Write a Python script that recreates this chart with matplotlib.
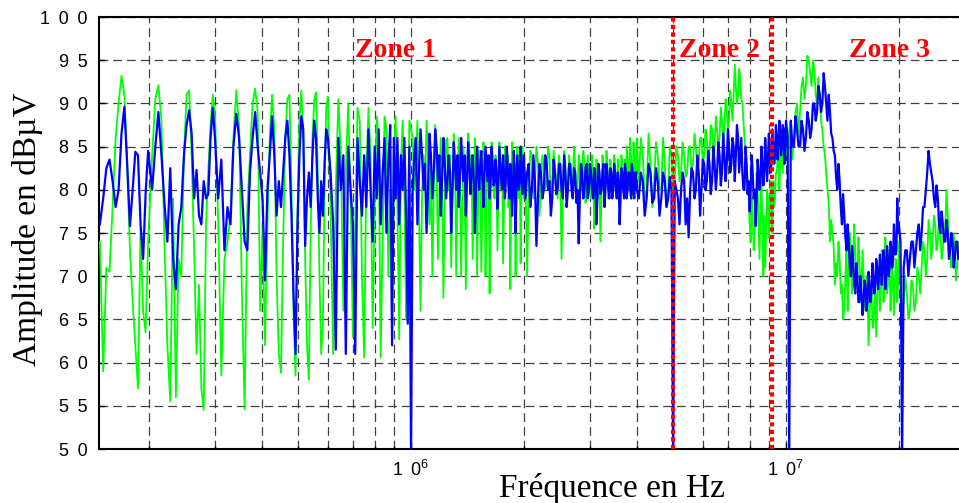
import matplotlib
matplotlib.use('Agg')
from matplotlib import pyplot as plt
from matplotlib.ticker import LogLocator, NullFormatter

# Frequences du balayage (MHz), communes aux deux mesures
freq_mhz = [
    0.148, 0.151, 0.154, 0.157, 0.160, 0.163, 0.166, 0.169, 0.172, 0.175, 0.178, 0.181, 0.184, 0.187, 0.190,
    0.193, 0.196, 0.199,
    0.204, 0.208, 0.212, 0.216, 0.220, 0.224, 0.228, 0.232, 0.236, 0.240, 0.244, 0.248, 0.252, 0.256, 0.260,
    0.264, 0.268, 0.272, 0.276, 0.280, 0.284, 0.288, 0.292, 0.296, 0.300,
    0.306, 0.312, 0.318, 0.324, 0.330, 0.336, 0.342, 0.348, 0.354, 0.360, 0.366, 0.372, 0.378, 0.384, 0.390,
    0.396, 0.402, 0.408, 0.414, 0.420, 0.426, 0.432, 0.438, 0.444, 0.450, 0.456, 0.462, 0.468, 0.474, 0.480,
    0.486, 0.492, 0.498, 0.504, 0.510, 0.516, 0.522, 0.528, 0.534, 0.540, 0.546, 0.552, 0.558, 0.564, 0.570,
    0.576, 0.582, 0.588, 0.594, 0.600,
    0.61, 0.62, 0.63, 0.64, 0.65, 0.66, 0.67, 0.68, 0.69, 0.70, 0.71, 0.72, 0.73, 0.74, 0.75, 0.76, 0.77,
    0.78, 0.79, 0.80, 0.81, 0.82, 0.83, 0.84, 0.85, 0.86, 0.87, 0.88, 0.89, 0.90, 0.91, 0.92, 0.93, 0.94,
    0.95, 0.96, 0.97, 0.98, 0.99, 1.00,
    1.01, 1.02, 1.03, 1.04, 1.05, 1.06, 1.07, 1.08, 1.09, 1.10,
    1.11, 1.12, 1.13, 1.14, 1.15, 1.16, 1.17, 1.18, 1.19, 1.20,
    1.21, 1.22, 1.23, 1.24, 1.25, 1.26, 1.27, 1.28, 1.29, 1.30,
    1.31, 1.32, 1.33, 1.34, 1.35, 1.36, 1.37, 1.38, 1.39, 1.40,
    1.41, 1.42, 1.43, 1.44, 1.45, 1.46, 1.47, 1.48, 1.49, 1.50,
    1.51, 1.52, 1.53, 1.54, 1.55, 1.56, 1.57, 1.58, 1.59, 1.60,
    1.61, 1.62, 1.63, 1.64, 1.65, 1.66, 1.67, 1.68, 1.69, 1.70,
    1.71, 1.72, 1.73, 1.74, 1.75, 1.76, 1.77, 1.78, 1.79, 1.80,
    1.81, 1.82, 1.83, 1.84, 1.85, 1.86, 1.87, 1.88, 1.89, 1.90,
    1.91, 1.92, 1.93, 1.94, 1.95, 1.96, 1.97, 1.98, 1.99, 2.00,
    2.02, 2.04, 2.06, 2.08, 2.10, 2.12, 2.14, 2.16, 2.18, 2.20,
    2.22, 2.24, 2.26, 2.28, 2.30, 2.32, 2.34, 2.36, 2.38, 2.40,
    2.42, 2.44, 2.46, 2.48, 2.50, 2.52, 2.54, 2.56, 2.58, 2.60,
    2.62, 2.64, 2.66, 2.68, 2.70, 2.72, 2.74, 2.76, 2.78, 2.80,
    2.82, 2.84, 2.86, 2.88, 2.90, 2.92, 2.94, 2.96, 2.98, 3.00,
    3.02, 3.04, 3.06, 3.08, 3.10, 3.12, 3.14, 3.16, 3.18, 3.20,
    3.22, 3.24, 3.26, 3.28, 3.30, 3.32, 3.34, 3.36, 3.38, 3.40,
    3.42, 3.44, 3.46, 3.48, 3.50, 3.52, 3.54, 3.56, 3.58, 3.60,
    3.62, 3.64, 3.66, 3.68, 3.70, 3.72, 3.74, 3.76, 3.78, 3.80,
    3.82, 3.84, 3.86, 3.88, 3.90, 3.92, 3.94, 3.96, 3.98, 4.00,
    4.05, 4.10, 4.15, 4.20, 4.25, 4.30, 4.35, 4.40, 4.45, 4.50, 4.55, 4.60, 4.65, 4.70, 4.75, 4.80,
    4.85, 4.90, 4.95, 5.00,
    5.05, 5.10, 5.15, 5.20, 5.25, 5.30, 5.35, 5.40, 5.45, 5.50, 5.55, 5.60, 5.65, 5.70, 5.75, 5.80,
    5.85, 5.90, 5.95, 6.00,
    6.05, 6.10, 6.15, 6.20, 6.25, 6.30, 6.35, 6.40, 6.45, 6.50, 6.55, 6.60, 6.65, 6.70, 6.75, 6.80,
    6.85, 6.90, 6.95, 7.00,
    7.05, 7.10, 7.15, 7.20, 7.25, 7.30, 7.35, 7.40, 7.45, 7.50, 7.55, 7.60, 7.65, 7.70, 7.75, 7.80,
    7.85, 7.90, 7.95, 8.00,
    8.05, 8.10, 8.15, 8.20, 8.25, 8.30, 8.35, 8.40, 8.45, 8.50, 8.55, 8.60, 8.65, 8.70, 8.75, 8.80,
    8.85, 8.90, 8.95, 9.00,
    9.05, 9.10, 9.15, 9.20, 9.25, 9.30, 9.35, 9.40, 9.45, 9.50, 9.55, 9.60, 9.65, 9.70, 9.75, 9.80,
    9.85, 9.90, 9.95, 10.00,
    10.1, 10.2, 10.3, 10.4, 10.5, 10.6, 10.7, 10.8, 10.9, 11.0,
    11.1, 11.2, 11.3, 11.4, 11.5, 11.6, 11.7, 11.8, 11.9, 12.0,
    12.1, 12.2, 12.3, 12.4, 12.5, 12.6, 12.7, 12.8, 12.9, 13.0,
    13.1, 13.2, 13.3, 13.4, 13.5, 13.6, 13.7, 13.8, 13.9, 14.0,
    14.1, 14.2, 14.3, 14.4, 14.5, 14.6, 14.7, 14.8, 14.9, 15.0,
    15.1, 15.2, 15.3, 15.4, 15.5, 15.6, 15.7, 15.8, 15.9, 16.0,
    16.1, 16.2, 16.3, 16.4, 16.5, 16.6, 16.7, 16.8, 16.9, 17.0,
    17.1, 17.2, 17.3, 17.4, 17.5, 17.6, 17.7, 17.8, 17.9, 18.0,
    18.1, 18.2, 18.3, 18.4, 18.5, 18.6, 18.7, 18.8, 18.9, 19.0,
    19.1, 19.2, 19.3, 19.4, 19.5, 19.6, 19.7, 19.8, 19.9, 20.0,
    20.2, 20.4, 20.6, 20.8, 21.0, 21.2, 21.4, 21.6, 21.8, 22.0, 22.2, 22.4, 22.6, 22.8, 23.0, 23.2,
    23.4, 23.6, 23.8, 24.0, 24.2, 24.4, 24.6, 24.8, 25.0, 25.2, 25.4, 25.6, 25.8, 26.0, 26.2, 26.4,
    26.6, 26.8, 27.0, 27.2, 27.4, 27.6, 27.8, 28.0, 28.2, 28.4, 28.6, 28.8, 29.0, 29.2,
]

# Mesure en vert (dBuV)
green_db = [
    74, 59, 71, 70.5, 78, 86, 90, 93.2, 91, 83, 73, 67, 62, 57, 75.5, 66, 63.5, 74,
    84, 90.5, 92.1, 88, 74, 62, 55.5, 79, 56, 72, 70, 84, 91, 91.5, 84, 73, 61, 69, 57, 54.5, 76, 82.3,
    87.5, 91, 88.8,
    76.5, 58.5, 72, 74, 77, 86, 91.5, 87.3, 68, 54.6, 78, 84, 90, 91.7, 89, 66, 76,
    62, 76, 86, 91, 87, 70, 61, 58.8, 74, 86, 90.5, 91, 80, 66, 58.5, 77, 88, 91.5, 86, 72, 62, 58, 75,
    86, 90.5, 91.3, 82, 70, 61, 64, 80, 89.5, 90.8,
    78, 61, 80, 90.5, 84, 66, 82, 90, 79, 63, 76, 89.5, 88, 70, 60.6, 82, 89.5, 84, 64, 78, 88.5, 86,
    60.6, 75, 88.5, 87, 70, 80, 64.6, 84, 88.5, 78, 62.7, 83, 88, 80, 65, 76, 88, 87,
    86, 80, 83, 88, 78, 66, 79, 84, 80, 88,
    84, 76, 83, 70, 80, 87.5, 83, 72, 79, 86,
    81, 67.5, 78, 85.5, 86, 80, 84, 71, 80, 86.5,
    83, 70, 79, 86, 82, 70, 78, 85, 81, 68.5,
    79, 86.5, 85, 82, 84, 72, 80, 86, 83, 70,
    79, 84.5, 82, 70.5, 78, 85.5, 83, 70, 79, 84,
    82, 68, 78, 85.5, 84, 80, 79, 84, 82, 73,
    79, 85.5, 84, 80, 83, 71.5, 78, 85, 84.5, 82,
    84, 78, 82, 68.5, 78, 85.5, 84, 80, 83, 70,
    79, 85, 83.5, 79, 84, 71.5, 79, 85, 83, 79,
    82, 70, 80, 84.5, 84, 79, 81, 85, 83, 77,
    80, 84, 83, 80, 81, 85, 84, 78, 80, 84.5,
    83, 81, 79, 84, 82, 72, 80, 84.5, 83, 79,
    80, 84, 82, 80.5, 80, 85, 83, 79, 80, 84,
    83, 80, 81, 84.5, 83, 78.5, 80, 84, 82, 80,
    79, 84, 82, 75.5, 80, 83.5, 83, 79, 81, 74,
    79, 84, 83, 80, 80, 84.5, 83, 79, 80, 83.5,
    82, 81, 80, 84, 83, 79, 80, 83.5, 82, 77,
    80, 84, 83, 80, 81, 83.5, 80, 85, 84, 80,
    81, 86, 84, 79, 81, 85.5, 84, 80.5, 81, 86,
    81, 86, 84, 79, 80, 86.5, 83, 78, 81, 85.5, 84, 80, 80, 86, 83, 78, 80, 85, 84, 80,
    81, 85, 84, 81, 82, 85.5, 84, 81.5, 82, 85, 85, 82, 83, 86.5, 85, 82.5, 83, 86, 86, 83,
    84, 87, 86, 83, 84, 87.5, 87, 84, 85, 88.5, 87, 84.5, 86, 89.5, 88, 86, 87, 90.5, 89, 87,
    88, 91.5, 90, 88, 91, 94.5, 92, 90, 91, 94, 93, 90.5, 90, 88, 86, 84, 83, 81, 79, 76,
    74, 79, 77, 73, 75, 78, 82, 80, 76, 72, 78, 81, 76, 70, 77, 71, 75, 80, 79, 74.5,
    77, 81, 79, 75, 81, 78, 79, 82, 82, 84, 85, 80, 83, 85, 86, 82, 84, 86, 87, 84,
    84, 87, 88, 83.5, 86, 89, 90, 86, 89, 92,
    93, 90.5, 92, 95.5, 95, 93.5, 92, 95, 94, 91,
    90, 93, 91, 88, 87, 85, 84, 82, 80, 78.5,
    74, 76.5, 75, 73.5, 69, 71.5, 70, 74, 72, 68,
    69, 65, 66, 70, 73, 66, 70, 75, 73, 68,
    71, 76, 73, 69, 70, 74.5, 72, 68, 69, 73,
    70, 67, 66, 70, 68, 62, 65, 68, 69, 64.5,
    64, 67, 68, 63, 67, 71, 70, 66, 68, 73,
    71, 67, 70, 74.5, 72, 68, 69, 73, 71, 66,
    68, 71, 70, 65.5, 68, 72, 71, 67, 69, 74,
    69, 66, 67, 70, 68, 65, 66, 69.5, 69, 66, 67, 71, 70, 68, 71, 74, 73, 70, 72, 76.5,
    75, 72, 74, 77, 76, 73, 74, 77.5, 75, 72, 73, 76, 76, 80, 77, 74, 73, 71, 72, 75,
    73, 69.5, 71, 73, 74, 71,
]

# Mesure en bleu (dBuV)
blue_db = [
    76, 79, 82.5, 83.5, 81, 78, 80, 86.5, 89.6, 83, 75.8, 80, 84.4, 84, 76, 72, 79.6, 84.5,
    80, 85, 89, 84, 78.5, 74, 82.5, 72, 68.5, 76, 78, 84, 87.5, 89.2, 86.5, 79, 82.3, 77, 76, 81, 79,
    79.5, 86, 89.5, 86,
    79, 83.5, 73, 78, 76, 85, 88.8, 86, 80, 74, 73, 82, 86, 89, 85, 82, 78.8,
    69.5, 80, 84, 88.5, 84, 77, 81, 78, 82, 86, 88, 84, 77, 68, 61, 76, 84, 88.5, 87, 73.5, 79, 82, 78,
    84, 88, 86, 79, 75, 81, 77, 83, 87, 86,
    82, 76, 61.5, 86, 80, 84, 61, 85, 80, 76, 61, 86, 81, 77, 84, 78, 87, 80, 74, 85, 79, 87, 76, 82,
    86, 75, 83, 87.5, 62, 86, 79, 86, 76, 84, 80, 86, 77, 64.5, 85, 49,
    80, 84, 86, 76, 82, 87, 84, 80, 83, 75,
    80, 86.5, 84, 79, 82, 87, 85, 81, 84, 77,
    81, 86, 83, 79, 81, 84, 82, 75, 80, 85.5,
    83, 80, 84, 78, 81, 86, 83, 81, 84, 77,
    81, 85.5, 83, 79.5, 82, 84, 81, 75, 80, 85,
    82, 80, 83, 84.5, 81, 78, 82, 85, 83, 81,
    84, 79, 81, 85, 83, 80.5, 81, 83.5, 82, 77.8,
    81, 85, 83, 81, 80, 84, 82, 79, 81, 85,
    83, 80.5, 79, 83, 81, 77, 80, 84.5, 82, 75,
    80, 84, 82, 80, 81, 85, 83, 79.5, 81, 84,
    79, 82, 83, 78, 80, 84, 81, 73.5, 79, 83,
    82, 79, 80, 84, 83, 80, 81, 77, 79, 83.5,
    82, 79.5, 80, 83, 83, 80, 79, 84, 82, 78,
    80, 83, 83, 80, 79, 82.5, 82, 78.5, 80, 73.8,
    79, 83, 82, 79, 80, 82.5, 83, 79, 80, 83,
    82, 80, 79, 82.5, 82, 76, 79, 83, 82, 79.5,
    80, 82, 83, 78, 80, 83, 82, 80, 79, 82.5,
    82, 79, 80, 83, 82, 80, 79, 82, 81, 76,
    79, 82.5, 82, 80, 79, 83, 82, 79, 80, 82,
    82, 80.5, 79, 83, 82, 79.5, 79, 82, 82, 80,
    79, 82, 81, 77, 79, 83, 82, 78.5, 79, 82.5, 81, 77, 79, 82, 81, 78, 79, 81.5, 80, 49,
    81, 80, 79, 76, 80, 82, 81, 76, 79, 74.5, 80, 82.5, 82, 79, 80, 84, 82, 77, 80, 83.5,
    83, 80, 81, 84.5, 83, 79.5, 81, 85, 83, 80, 82, 85.5, 84, 80.5, 82, 86.5, 84, 81, 83, 87,
    85, 82, 83, 86, 85, 81, 84, 87.5, 86, 82, 84, 86, 82, 80, 80, 85, 83, 79.5, 81, 77.5,
    80, 84, 82, 79, 80, 75.8, 79, 83.5, 82, 80, 81, 85, 83, 80.5, 82, 86, 84, 81, 83, 86.5,
    85, 82, 83, 87, 85, 83, 84, 87.5, 86, 83.5, 85, 88, 87, 84, 85, 87.5, 87, 83, 85, 88,
    86, 49, 88, 85, 85, 88.5, 87, 85, 85, 88,
    87, 84.5, 86, 89, 88, 86, 87, 90, 90, 88,
    89, 92, 91, 89, 90, 93.5, 92, 90, 88, 91,
    89, 86.5, 86, 84.5, 84, 81.5, 80, 83, 81, 78,
    76, 79.5, 77, 74.5, 73, 76, 74, 71, 70, 73.5,
    72, 69, 68, 71.5, 70, 67, 67, 70, 68, 65.5,
    67, 69.5, 69, 66, 67, 70.5, 69, 67, 68, 71.5,
    70, 68, 69, 72, 71, 68.5, 70, 72.5, 71, 69,
    71, 73, 72, 68.5, 70, 73.5, 72, 70, 71, 74,
    73, 71, 72, 76, 74, 72.5, 73, 79, 75, 76,
    74, 49, 71, 73, 73, 70, 72, 74, 74, 71, 73, 75, 76, 73, 75, 78, 78, 80, 82, 84.5,
    83, 82, 81, 79, 78, 80.5, 79, 76, 75, 77.5, 76, 74, 74, 76.5, 75, 72, 73, 75, 74, 71,
    72, 74, 74, 72, 72, 73.5,
]

assert len(freq_mhz) == len(green_db) == len(blue_db)

zone_limits_mhz = [5.0, 9.2]
zone_names = ['Zone 1', 'Zone 2', 'Zone 3']
zone_text_mhz = [0.709, 5.18, 14.7]
y_ticks = [50, 55, 60, 65, 70, 75, 80, 85, 90, 95, 100]
x_ticks = [1e6, 1e7]
x_ticklabels = ['1 \u20090$^{6}$', '1 \u20090$^{7}$']

plt.rcParams['font.family'] = ['Liberation Sans', 'DejaVu Sans']
plt.rcParams['mathtext.default'] = 'regular'

fig = plt.figure(figsize=(9.59, 5.03), dpi=100)
ax = fig.add_axes([99 / 959, 54 / 503, 860 / 959, 432 / 503])

f_hz = [f * 1e6 for f in freq_mhz]
ax.plot(f_hz, green_db, color='#00ff00', lw=1.3, zorder=3)
ax.plot(f_hz, blue_db, color='#0000ff', lw=1.6, zorder=4)

for fz in zone_limits_mhz:
    ax.axvline(fz * 1e6, color='#ff0000', lw=3, ls=(0, (1, 0.8)), zorder=5)

for name, fx in zip(zone_names, zone_text_mhz):
    ax.text(fx * 1e6, 95.4, name, color='#ff0000', fontweight='bold', family='Liberation Serif',
            size=20, ha='left', va='baseline', zorder=6)

ax.set_xscale('log')
ax.set_xlim(0.1472e6, 28.93e6)
ax.set_ylim(50, 100)

ax.set_xticks(x_ticks)
ax.set_xticklabels(x_ticklabels)
ax.xaxis.set_minor_locator(LogLocator(base=10, subs=[2, 3, 4, 5, 6, 7, 8, 9], numticks=20))
ax.xaxis.set_minor_formatter(NullFormatter())
ax.set_yticks(y_ticks)
ax.set_yticklabels([' \u2009'.join(str(v)) for v in y_ticks])

ax.grid(True, which='both', color='0.25', lw=0.9, ls=(0, (7, 4)), zorder=1)
ax.set_axisbelow(True)
ax.tick_params(which='both', direction='in', labelsize=13, width=1)
ax.tick_params(which='major', length=4, pad=8)
ax.tick_params(which='minor', length=2)

for side in ['left', 'bottom', 'top']:
    ax.spines[side].set_linewidth(1.5)
ax.spines['right'].set_visible(False)

fig.text(36 / 959, 1 - 229 / 503, 'Amplitude en dBµV', rotation=90, rotation_mode='anchor',
         family='Liberation Serif', size=24, ha='center', va='baseline')
fig.text(612 / 959, 6 / 503, 'Fréquence en Hz', family='Liberation Serif', size=24,
         ha='center', va='baseline')

fig.savefig('out.png', dpi=100)
